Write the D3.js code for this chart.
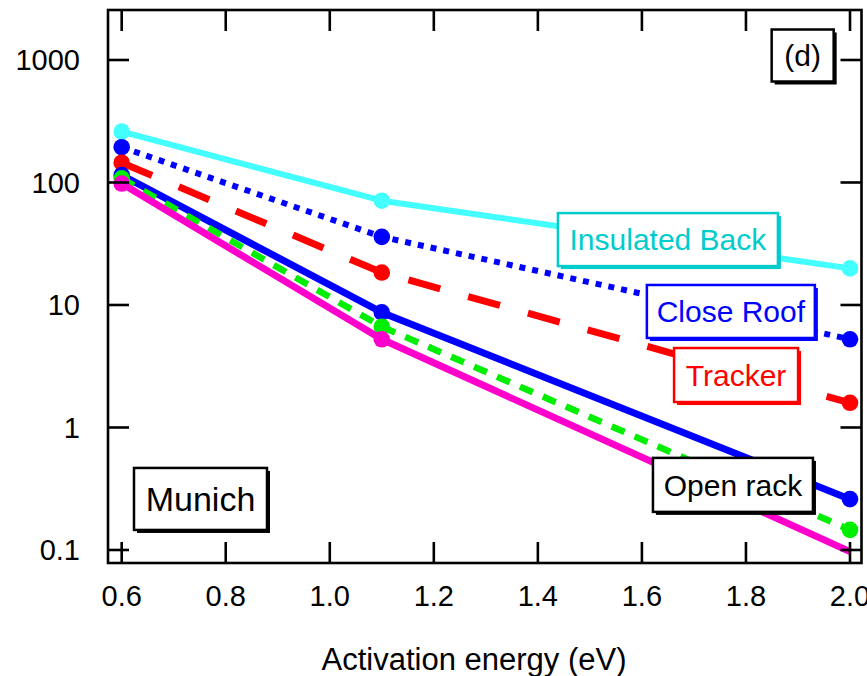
<!DOCTYPE html>
<html>
<head>
<meta charset="utf-8">
<script src="https://cdn.jsdelivr.net/npm/d3@7"></script>
<style>
  body { margin: 0; background: #fff; }
  svg { display: block; font-family: "Liberation Sans", Arial, sans-serif; }
</style>
</head>
<body>
<div id="chart"></div>
<script>
// x values shared by every series (eV)
const energies = [0.6, 1.1, 2.0];

// series values
const insulatedBack = [260, 71, 19.9];
const closeRoof = [194, 36, 5.25];
const tracker = [145, 18.4, 1.59];
const openRackBlue = [115, 8.7, 0.26];
const openRackGreen = [108, 6.65, 0.146];
const openRackMagenta = [98, 5.25, 0.097];

const xTicks = [0.6, 0.8, 1.0, 1.2, 1.4, 1.6, 1.8, 2.0];
const yTicks = [0.1, 1, 10, 100, 1000];
const yTickLabels = ['0.1', '1', '10', '100', '1000'];

// text boxes: label, centre in data units
const boxLabels = ['(d)', 'Insulated Back', 'Close Roof', 'Tracker', 'Open rack', 'Munich'];
const boxAnchors = [[1.909, 1088], [1.650, 34.2], [1.771, 8.85], [1.781, 2.68], [1.775, 0.34], [0.7515, 0.261]];

const width = 867, height = 676;
const frame = { left: 108, right: 861.5, top: 10, bottom: 563 };

const x = d3.scaleLinear().domain([0.5737, 2.0221]).range([frame.left, frame.right]);
const y = d3.scaleLog().domain([0.0783, 2559]).range([frame.bottom, frame.top]);

const series = [
    { values: insulatedBack, color: '#44ffff', width: 6, dash: null, markers: 3 },
    { values: closeRoof, color: '#0000ff', width: 6, dash: '6,7', markers: 3 },
    { values: tracker, color: '#ff0000', width: 7, dash: '33,29', markers: 3 },
    { values: openRackBlue, color: '#0000ff', width: 7, dash: null, markers: 3 },
    { values: openRackGreen, color: '#00ee00', width: 6.5, dash: '14,11', markers: 3 },
    { values: openRackMagenta, color: '#ff00cc', width: 7, dash: null, markers: 2 }
];

const boxStyles = [
    { color: '#000', size: 30, w: 62, h: 52 },
    { color: '#00cccc', size: 30, w: 220, h: 53 },
    { color: '#0000ff', size: 30, w: 168, h: 53 },
    { color: '#ff0000', size: 30, w: 124, h: 54 },
    { color: '#000', size: 30, w: 160, h: 54 },
    { color: '#000', size: 34, w: 133, h: 62 }
];

const svg = d3.select('#chart').append('svg')
    .attr('width', width)
    .attr('height', height);

// lines + markers
const line = d3.line()
    .x((d, i) => x(energies[i]))
    .y(d => y(d));

series.forEach(s => {
    svg.append('path')
        .datum(s.values)
        .attr('d', line)
        .attr('fill', 'none')
        .attr('stroke', s.color)
        .attr('stroke-width', s.width)
        .attr('stroke-dasharray', s.dash)
        .attr('stroke-linejoin', 'round');

    svg.selectAll(null)
        .data(s.values.slice(0, s.markers))
        .enter().append('circle')
        .attr('cx', (d, i) => x(energies[i]))
        .attr('cy', d => y(d))
        .attr('r', 8.3)
        .attr('fill', s.color);
});

// frame
const axisColor = '#000';
svg.append('rect')
    .attr('x', frame.left).attr('y', frame.top)
    .attr('width', frame.right - frame.left)
    .attr('height', frame.bottom - frame.top)
    .attr('fill', 'none')
    .attr('stroke', axisColor)
    .attr('stroke-width', 2.6);

// inward ticks on all four sides
const tickLen = 21;
xTicks.forEach(t => {
    svg.append('line').attr('x1', x(t)).attr('x2', x(t))
        .attr('y1', frame.bottom).attr('y2', frame.bottom - tickLen)
        .attr('stroke', axisColor).attr('stroke-width', 2.6);
    svg.append('line').attr('x1', x(t)).attr('x2', x(t))
        .attr('y1', frame.top).attr('y2', frame.top + tickLen)
        .attr('stroke', axisColor).attr('stroke-width', 2.6);
    svg.append('text')
        .attr('x', x(t)).attr('y', 606)
        .attr('text-anchor', 'middle')
        .attr('font-size', '29px')
        .text(t.toFixed(1));
});

yTicks.forEach((t, i) => {
    svg.append('line').attr('x1', frame.left).attr('x2', frame.left + tickLen)
        .attr('y1', y(t)).attr('y2', y(t))
        .attr('stroke', axisColor).attr('stroke-width', 2.6);
    svg.append('line').attr('x1', frame.right).attr('x2', frame.right - tickLen)
        .attr('y1', y(t)).attr('y2', y(t))
        .attr('stroke', axisColor).attr('stroke-width', 2.6);
    svg.append('text')
        .attr('x', 80).attr('y', y(t) + 10.5)
        .attr('text-anchor', 'end')
        .attr('font-size', '29px')
        .text(yTickLabels[i]);
});

svg.append('text')
    .attr('x', 474).attr('y', 670)
    .attr('text-anchor', 'middle')
    .attr('font-size', '31px')
    .text('Activation energy (eV)');

// annotation boxes with drop shadow
boxLabels.forEach((label, i) => {
    const st = boxStyles[i];
    const cx = x(boxAnchors[i][0]);
    const cy = y(boxAnchors[i][1]);
    const g = svg.append('g');
    g.append('rect')
        .attr('x', cx - st.w / 2 + 3).attr('y', cy - st.h / 2 + 3)
        .attr('width', st.w).attr('height', st.h)
        .attr('fill', st.color);
    g.append('rect')
        .attr('x', cx - st.w / 2).attr('y', cy - st.h / 2)
        .attr('width', st.w).attr('height', st.h)
        .attr('fill', '#fff')
        .attr('stroke', st.color)
        .attr('stroke-width', 2.5);
    g.append('text')
        .attr('x', cx).attr('y', cy + st.size * 0.36)
        .attr('text-anchor', 'middle')
        .attr('font-size', st.size + 'px')
        .attr('fill', st.color)
        .text(label);
});
</script>
</body>
</html>
